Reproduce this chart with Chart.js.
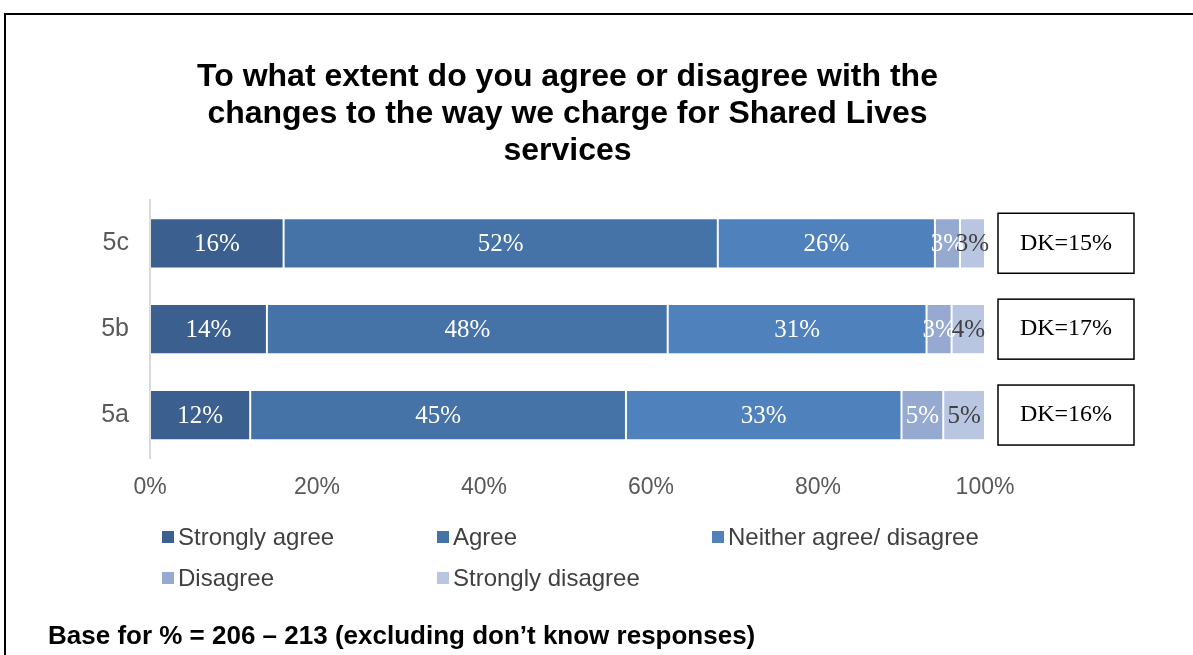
<!DOCTYPE html>
<html>
<head>
<meta charset="utf-8">
<script src="https://cdn.jsdelivr.net/npm/chart.js@4/dist/chart.umd.min.js"></script>
<style>
  html, body { margin: 0; padding: 0; background: #fff; overflow: hidden; }
  #wrap { position: relative; width: 1193px; height: 655px; }
  #frame { position: absolute; left: 4px; top: 13px; width: 1300px; height: 800px;
           border-left: 2px solid #000; border-top: 2px solid #000; }
  #myChart { position: absolute; left: 0; top: 0; }
  #legend { position: absolute; left: 162px; top: 523px; width: 860px;
            display: grid; grid-template-columns: 275px 275px 300px; row-gap: 13px;
            font-family: "Liberation Sans", Arial, sans-serif; font-size: 24px; color: #404040; }
  #legend span.item { display: flex; align-items: center; height: 28px; white-space: nowrap; }
  #legend span.box { display: inline-block; width: 12px; height: 12px; margin-right: 4px; }
  #note { position: absolute; left: 48px; top: 620px; font-family: "Liberation Sans", Arial, sans-serif;
          font-weight: bold; font-size: 26px; color: #000; white-space: nowrap; }
</style>
</head>
<body>
<div id="wrap">
  <div id="frame"></div>
  <canvas id="myChart" width="1193" height="655"></canvas>
  <div id="legend"></div>
  <div id="note">Base for % = 206 – 213 (excluding don’t know responses)</div>
</div>
<script>
const questions = ['5c', '5b', '5a'];
const responses = ['Strongly agree', 'Agree', 'Neither agree/ disagree', 'Disagree', 'Strongly disagree'];
const stronglyAgree = [16, 14, 12];
const agree = [52, 48, 45];
const neither = [26, 31, 33];
const disagree = [3, 3, 5];
const stronglyDisagree = [3, 4, 5];
const dontKnow = [15, 17, 16];
const xTicks = [0, 20, 40, 60, 80, 100];

const barColors = ['#3b5f8e', '#4572a7', '#4f81bd', '#95a9d1', '#b9c6e1'];
const labelColors = ['#fff', '#fff', '#fff', '#fff', '#404040'];
const seriesValues = [stronglyAgree, agree, neither, disagree, stronglyDisagree];

const ctx = document.getElementById('myChart');

// percentage text in the middle of each segment
const segmentLabels = {
  id: 'segmentLabels',
  afterDatasetsDraw(chart) {
    const c = chart.ctx;
    c.save();
    c.font = '25px "Liberation Serif", "Times New Roman", serif';
    c.textAlign = 'center';
    c.textBaseline = 'middle';
    chart.data.datasets.forEach((ds, i) => {
      chart.getDatasetMeta(i).data.forEach((bar, j) => {
        c.fillStyle = labelColors[i];
        c.fillText(ds.data[j] + '%', (bar.x + bar.base) / 2, bar.y + 1);
      });
    });
    c.restore();
  }
};

// "don't know" boxes to the right of each bar
const dkBoxes = {
  id: 'dkBoxes',
  afterDraw(chart) {
    const c = chart.ctx;
    const area = chart.chartArea;
    const yScale = chart.scales.y;
    c.save();
    c.strokeStyle = '#000';
    c.lineWidth = 1.5;
    c.font = '24px "Liberation Serif", "Times New Roman", serif';
    c.textAlign = 'center';
    c.textBaseline = 'middle';
    c.fillStyle = '#000';
    dontKnow.forEach((v, i) => {
      const y = yScale.getPixelForValue(i);
      const x = area.right + 13;
      c.strokeRect(x, y - 30, 136, 60);
      c.fillText('DK=' + v + '%', x + 68, y);
    });
    c.restore();
  }
};

const chart = new Chart(ctx, {
  type: 'bar',
  data: {
    labels: questions,
    datasets: responses.map((name, i) => ({
      label: name,
      data: seriesValues[i],
      backgroundColor: barColors[i],
      borderColor: 'rgba(255,255,255,0.2)',
      borderWidth: 1,
      borderSkipped: false,
      categoryPercentage: 1,
      barPercentage: 0.585
    }))
  },
  options: {
    indexAxis: 'y',
    responsive: false,
    animation: false,
    layout: { padding: { top: 58, left: 0, right: 208, bottom: 137 } },
    plugins: {
      legend: { display: false },
      tooltip: { enabled: false },
      title: {
        display: true,
        fullSize: false,
        text: ['To what extent do you agree or disagree with the',
               'changes to the way we charge for Shared Lives',
               'services'],
        color: '#000',
        font: { family: '"Liberation Sans", Arial, sans-serif', size: 32, weight: 'bold', lineHeight: 1.17 },
        padding: { top: 0, bottom: 30 }
      }
    },
    scales: {
      x: {
        stacked: true,
        min: 0,
        max: 100,
        afterBuildTicks(scale) { scale.ticks = xTicks.map(v => ({ value: v })); },
        afterFit(scale) { scale.height = 60; },
        grid: { display: false, drawTicks: false },
        border: { display: false },
        ticks: {
          padding: 16,
          color: '#595959',
          font: { family: '"Liberation Sans", Arial, sans-serif', size: 23 },
          callback: v => v + '%'
        }
      },
      y: {
        stacked: true,
        afterFit(scale) { scale.width = 150; },
        grid: { display: false, drawTicks: false },
        border: { display: true, color: '#d9d9d9', width: 2 },
        ticks: {
          padding: 21,
          color: '#595959',
          font: { family: '"Liberation Sans", Arial, sans-serif', size: 25 }
        }
      }
    }
  },
  plugins: [segmentLabels, dkBoxes]
});

// legend laid out in three columns
const legend = document.getElementById('legend');
responses.forEach((name, i) => {
  const item = document.createElement('span');
  item.className = 'item';
  item.innerHTML = '<span class="box" style="background:' + barColors[i] + '"></span>' + name;
  legend.appendChild(item);
});
</script>
</body>
</html>
